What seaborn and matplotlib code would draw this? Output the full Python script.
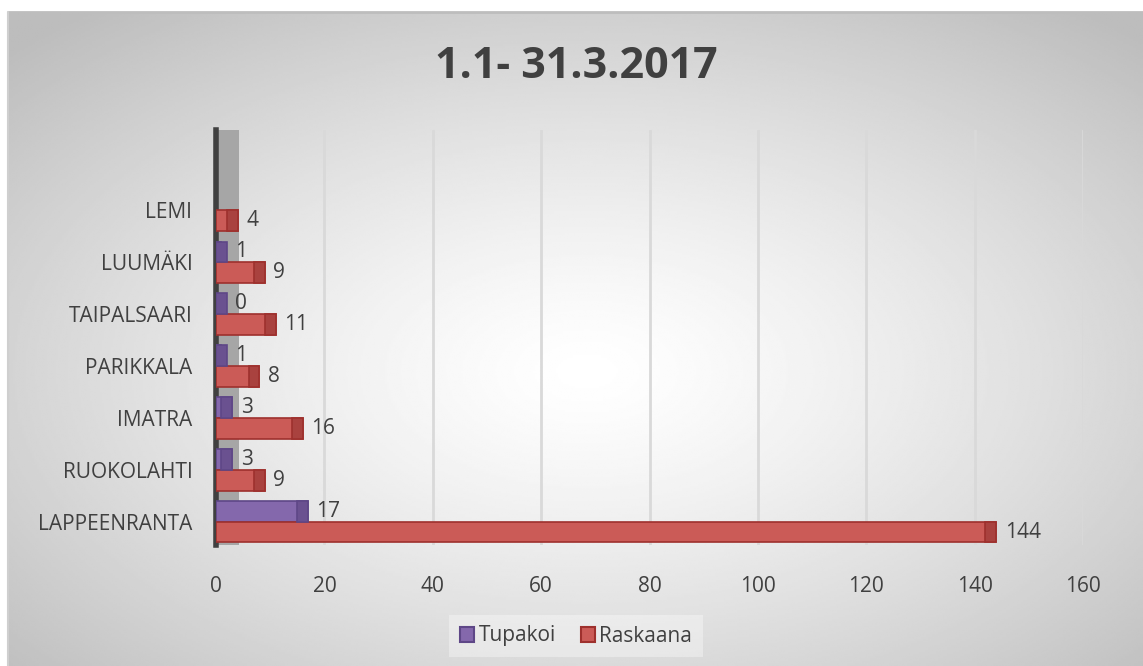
import numpy as np
import pandas as pd
import matplotlib
matplotlib.use("Agg")
import matplotlib.pyplot as plt
from matplotlib.patches import Rectangle
from matplotlib.lines import Line2D
import seaborn as sns

# data, top to bottom as in the chart
kunnat = ['LEMI', 'LUUMÄKI', 'TAIPALSAARI', 'PARIKKALA', 'IMATRA', 'RUOKOLAHTI', 'LAPPEENRANTA']
tupakoi = [np.nan, 1, 0, 1, 3, 3, 17]
raskaana = [4, 9, 11, 8, 16, 9, 144]
sarjat = ['Tupakoi', 'Raskaana']
x_ticks = [0, 20, 40, 60, 80, 100, 120, 140, 160]
otsikko = '1.1- 31.3.2017'

vari = {'Tupakoi': '#8468ac', 'Raskaana': '#cb5b57'}
reuna = {'Tupakoi': '#5e4787', 'Raskaana': '#9e302d'}
paaty = {'Tupakoi': '#6a5190', 'Raskaana': '#a9423f'}

df = pd.DataFrame({'kunta': kunnat * 2,
                   'sarja': ['Tupakoi'] * len(kunnat) + ['Raskaana'] * len(kunnat),
                   'arvo': tupakoi + raskaana}).dropna()

sns.set_style('white')
plt.rcParams['font.family'] = ['Open Sans', 'DejaVu Sans']
teksti = '#404040'

W, H = 1143, 666
fig = plt.figure(figsize=(W / 100, H / 100), dpi=100)
fig.patch.set_facecolor('white')

# radial gradient background of the chart area
bg = fig.add_axes([8 / W, 0, 1 - 8 / W, 1 - 12 / H])
yy, xx = np.mgrid[-1:1:300j, -1:1:600j]
r = np.sqrt((xx - 0.02) ** 2 + (yy - 0.1) ** 2) / np.sqrt(2)
g = 1 - 0.26 * np.clip(r, 0, 1) ** 1.3
bg.imshow(g, cmap='gray', vmin=0, vmax=1, aspect='auto', interpolation='bilinear')
bg.axis('off')
fig.add_artist(Line2D([8 / W, 1], [1 - 12 / H] * 2, color='#bdbdbd', lw=2))
fig.add_artist(Line2D([8 / W] * 2, [0, 1 - 12 / H], color='#cfcfcf', lw=1.5))

ax = fig.add_axes([216 / W, 1 - 545 / H, 867 / W, 415 / H])
ax.patch.set_alpha(0)

sns.barplot(data=df, x='arvo', y='kunta', hue='sarja', order=kunnat, hue_order=sarjat,
            orient='h', palette=vari, width=0.8, saturation=1, ax=ax, zorder=3)

# darker end cap for the 3D look, small/zero bars still get a visible cap
cap = 2.0
for cont, s in zip(ax.containers, sarjat):
    for p in cont:
        p.set_edgecolor(reuna[s])
        p.set_linewidth(1.2)
        w = p.get_width()
        end = max(w, cap)
        ax.add_patch(Rectangle((end - cap, p.get_y()), cap, p.get_height(),
                               facecolor=paaty[s], edgecolor=reuna[s], lw=1.2, zorder=4))
        ax.annotate(f'{w:g}', (end, p.get_y() + p.get_height() / 2), xytext=(6, 0),
                    textcoords='offset points', va='center', ha='left',
                    fontsize=15, color=teksti, zorder=5)

# grey side wall
ax.axvspan(0, 4.3, color='#a6a6a6', zorder=1, lw=0)

ax.set_xlim(0, 160)
ax.set_ylim(6.45, -1.55)
ax.set_xticks(x_ticks)
ax.grid(axis='x', color='#d9d9d9', lw=2, zorder=0)
ax.set_axisbelow(True)
ax.tick_params(axis='x', length=0, pad=22, labelsize=15, labelcolor=teksti)
ax.tick_params(axis='y', length=0, pad=17, labelsize=15, labelcolor=teksti)
ax.set_xlabel('')
ax.set_ylabel('')
for k in ['top', 'right', 'bottom']:
    ax.spines[k].set_visible(False)
ax.spines['left'].set_color('#404040')
ax.spines['left'].set_linewidth(4)

ax.get_legend().remove()
handles = [Rectangle((0, 0), 1, 1, facecolor=vari[s], edgecolor=reuna[s], lw=1.5) for s in sarjat]
leg = fig.legend(handles, sarjat, loc='center', bbox_to_anchor=(576 / W, 1 - 636 / H), ncol=2,
                 handlelength=0.7, handleheight=0.7, handletextpad=0.2, columnspacing=1.2,
                 fontsize=15, frameon=True, fancybox=False, borderpad=0.5)
leg.get_frame().set_facecolor('white')
leg.get_frame().set_alpha(0.35)
leg.get_frame().set_linewidth(0)
for t in leg.get_texts():
    t.set_color(teksti)

fig.text(576 / W, 1 - 66 / H, otsikko, ha='center', va='center', fontsize=31,
         fontweight='bold', color=teksti)

fig.savefig('out.png', dpi=100)
